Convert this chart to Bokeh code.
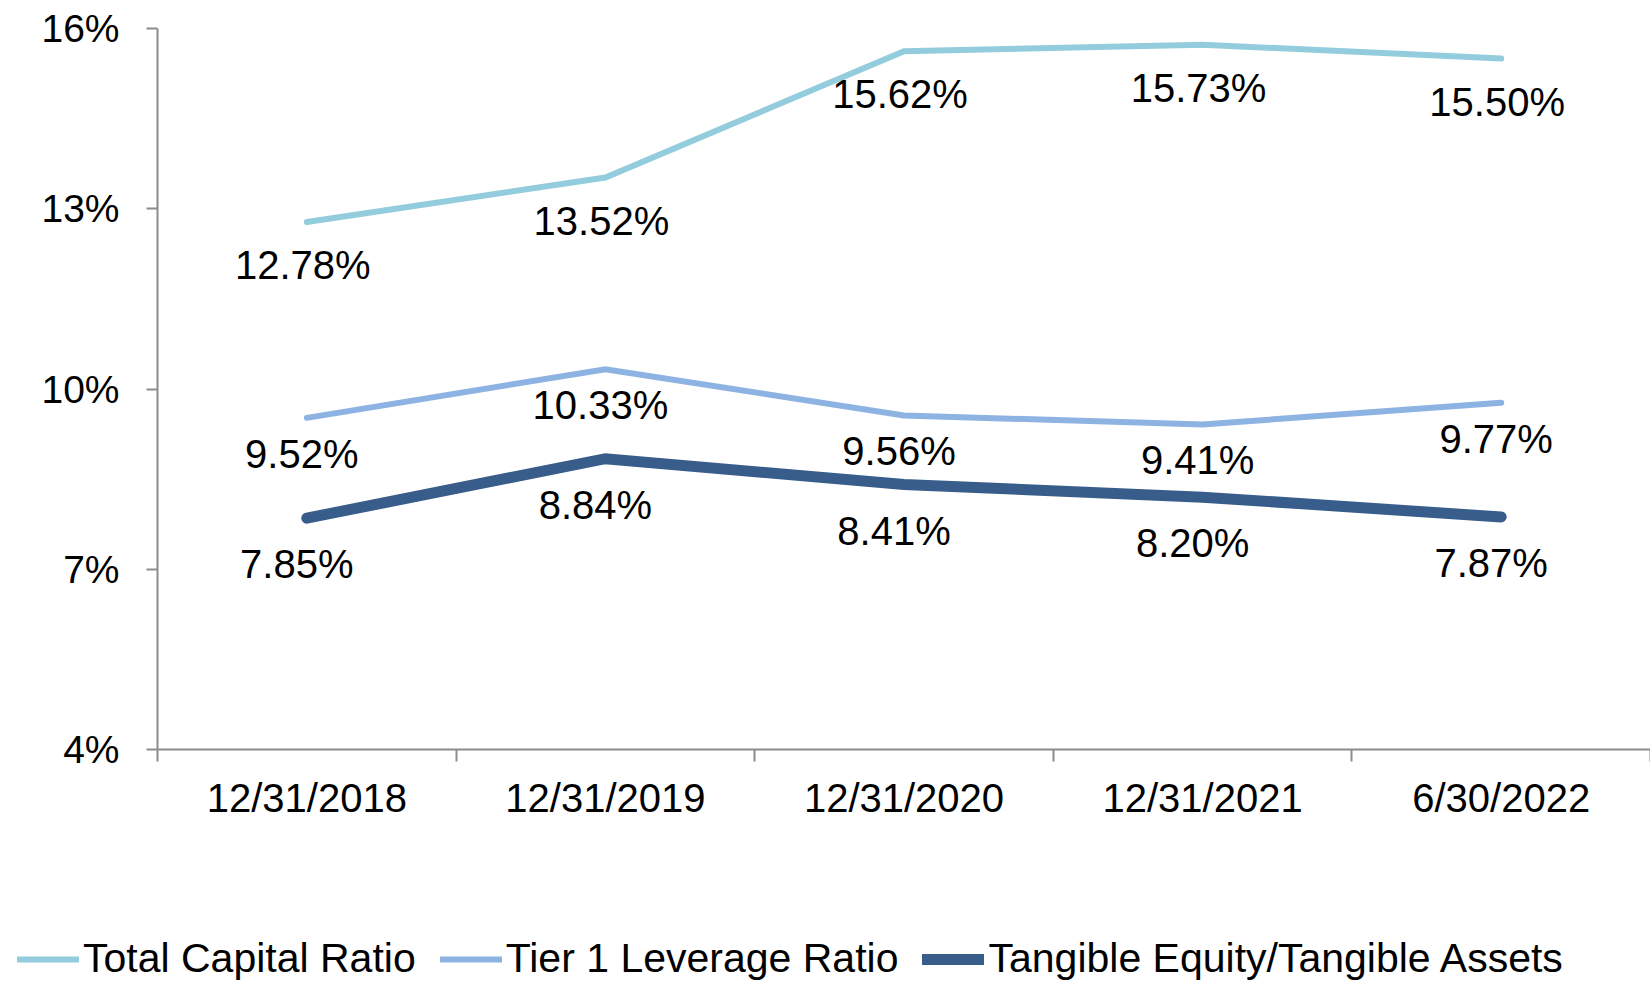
from bokeh.plotting import figure
from bokeh.models import (ColumnDataSource, FixedTicker, LinearAxis, Range1d,
                          Legend, LegendItem)
from bokeh.core.properties import value
from bokeh.embed import file_html
from bokeh.resources import INLINE

# ---- data ----
periods = ["12/31/2018", "12/31/2019", "12/31/2020", "12/31/2021", "6/30/2022"]
total_capital = [12.78, 13.52, 15.62, 15.73, 15.50]
tier1_leverage = [9.52, 10.33, 9.56, 9.41, 9.77]
tangible_equity = [7.85, 8.84, 8.41, 8.20, 7.87]
y_ticks = [4, 7, 10, 13, 16]
series_names = ["Total Capital Ratio", "Tier 1 Leverage Ratio",
                "Tangible Equity/Tangible Assets"]

FONT = "Liberation Sans"
AXIS_COLOR = "#8c8c8c"

W, H = 1650, 982
# plot area (pixels) inside the canvas: left, right, top, bottom
PL, PR, PT, PB = 157, 1650, 28, 749
n = len(periods)
ymin, ymax = y_ticks[0], y_ticks[-1]
xs = (PR - PL) / n                 # px per category
ys = (PB - PT) / (ymax - ymin)     # px per percent

xpos = [i + 0.5 for i in range(n)]

p = figure(width=W, height=H, output_backend="svg", toolbar_location=None,
           x_range=Range1d(-PL / xs, n + (W - PR) / xs),
           y_range=Range1d(ymin - (H - PB) / ys, ymax + PT / ys),
           min_border=0, x_axis_type=None, y_axis_type=None)
p.outline_line_color = None
p.background_fill_color = "white"
p.border_fill_color = "white"

# y axis (fixed at x = 0, i.e. the left edge of the category area)
yax = LinearAxis(ticker=FixedTicker(ticks=y_ticks, minor_ticks=[]),
                 fixed_location=0, bounds=(ymin, ymax))
yax.major_label_overrides = {t: f"{t}%" for t in y_ticks}
yax.axis_line_color = AXIS_COLOR
yax.axis_line_width = 2
yax.major_tick_line_color = AXIS_COLOR
yax.major_tick_line_width = 2
yax.major_tick_out = 11
yax.major_tick_in = 0
yax.minor_tick_line_color = None
yax.major_label_standoff = 27
yax.major_label_text_font = FONT
yax.major_label_text_font_size = "39px"
yax.major_label_text_color = "black"
p.add_layout(yax, "left")

# x axis: labels at centers, tick marks at category boundaries
xax = LinearAxis(ticker=FixedTicker(ticks=xpos, minor_ticks=list(range(n + 1))),
                 fixed_location=ymin, bounds=(0, n))
xax.major_label_overrides = {x: lab for x, lab in zip(xpos, periods)}
xax.axis_line_color = AXIS_COLOR
xax.axis_line_width = 2
xax.major_tick_line_color = None
xax.minor_tick_line_color = AXIS_COLOR
xax.minor_tick_line_width = 2
xax.minor_tick_out = 12
xax.minor_tick_in = 0
xax.major_label_standoff = 14
xax.major_label_text_font = FONT
xax.major_label_text_font_size = "40px"
xax.major_label_text_color = "black"
p.add_layout(xax, "below")

colors = ["#93CDDD", "#8DB3E2", "#385D8A"]
widths = [6, 6, 11]
label_dy = [43, 36, 46]
label_dx = [-4, -5, -10]
all_series = [total_capital, tier1_leverage, tangible_equity]

renderers = []
for vals, col, w, dy, dx in zip(all_series, colors, widths, label_dy, label_dx):
    src = ColumnDataSource(dict(x=xpos, y=vals, lab=[f"{v:.2f}%" for v in vals]))
    r = p.line("x", "y", source=src, line_color=col, line_width=w,
               line_cap="round", line_join="miter")
    renderers.append(r)
    p.text("x", "y", text="lab", source=src, text_align="center",
           text_baseline="middle", x_offset=dx, y_offset=dy,
           text_font=value(FONT), text_font_size="40px", text_color="black")

legend = Legend(items=[LegendItem(label=nm, renderers=[r])
                       for nm, r in zip(series_names, renderers)],
                orientation="horizontal", location=(17, 0),
                padding=0, margin=0, spacing=24, label_standoff=4,
                glyph_width=62, glyph_height=40, label_height=40,
                border_line_color=None, background_fill_alpha=0)
legend.label_text_font = FONT
legend.label_text_font_size = "41px"
legend.label_text_color = "black"
p.add_layout(legend, "center")

open("out.html", "w").write(file_html(p, INLINE))
